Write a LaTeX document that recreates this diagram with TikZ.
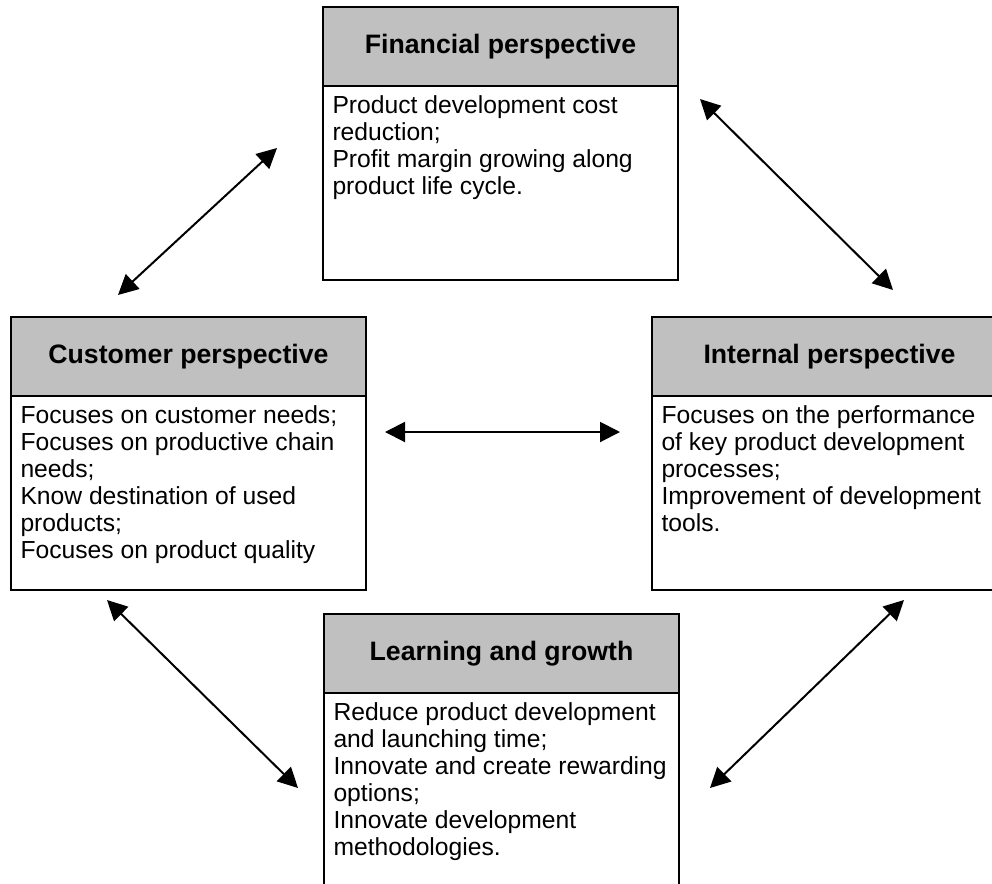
\documentclass[tikz,border=0pt]{standalone}
\usepackage{fontspec}
\setmainfont{Liberation Sans}
\usetikzlibrary{arrows.meta}
\definecolor{headgray}{RGB}{192,192,192}

% text of the lower part of a box, top aligned
\newcommand{\boxtext}[1]{\parbox[t][145.5pt][t]{252pt}{\raggedright\rule{0pt}{20.5pt}#1}}

\begin{document}
\begin{tikzpicture}[x=0.75pt,y=-0.75pt]

\tikzstyle{head-b} = [draw, line width=1.3pt, fill=headgray, anchor=north west,
minimum width=266.25pt, minimum height=59.25pt, inner sep=0pt, outer sep=0pt,
font=\fontsize{20}{24}\selectfont\bfseries]
\tikzstyle{body-b} = [draw, line width=1.3pt, fill=white, anchor=north,
minimum width=266.25pt, inner xsep=7pt, inner ysep=0pt, outer sep=0pt,
font=\fontsize{18.5}{20.3}\selectfont]
\tikzstyle{link} = [line width=1.5pt, {Triangle[length=15pt,width=15pt]}-{Triangle[length=15pt,width=15pt]}]

\useasboundingbox (0,0) rectangle (992,883);
\clip (0,0) rectangle (992,883);

% the four perspectives
\node [head-b] (fin-h) at (323,7) {Financial perspective};
\node [body-b] (fin-b) at (fin-h.south) {\boxtext{Product development cost\\ reduction;\\
Profit margin growing along\\ product life cycle.}};

\node [head-b] (cus-h) at (11,317) {Customer perspective};
\node [body-b] (cus-b) at (cus-h.south) {\boxtext{Focuses on customer needs;\\
Focuses on productive chain\\ needs;\\ Know destination of used\\ products;\\
Focuses on product quality}};

\node [head-b] (int-h) at (652,317) {Internal perspective};
\node [body-b] (int-b) at (int-h.south) {\boxtext{Focuses on the performance\\
of key product development\\ processes;\\ Improvement of development\\ tools.}};

\node [head-b] (lrn-h) at (324,614) {Learning and growth};
\node [body-b] (lrn-b) at (lrn-h.south) {\boxtext{Reduce product development\\
and launching time;\\ Innovate and create rewarding\\ options;\\
Innovate development\\ methodologies.}};

% free ends of the links
\coordinate (fc-1) at (277,148);
\coordinate (fc-2) at (118,295);
\coordinate (fi-1) at (700,99);
\coordinate (fi-2) at (893,290);
\coordinate (ci-1) at (385,432);
\coordinate (ci-2) at (620,432);
\coordinate (cl-1) at (107,600);
\coordinate (cl-2) at (298,788);
\coordinate (il-1) at (904,600);
\coordinate (il-2) at (710,788);

\draw [link] (fc-1) -- (fc-2);
\draw [link] (fi-1) -- (fi-2);
\draw [link] (ci-1) -- (ci-2);
\draw [link] (cl-1) -- (cl-2);
\draw [link] (il-1) -- (il-2);

\end{tikzpicture}
\end{document}
